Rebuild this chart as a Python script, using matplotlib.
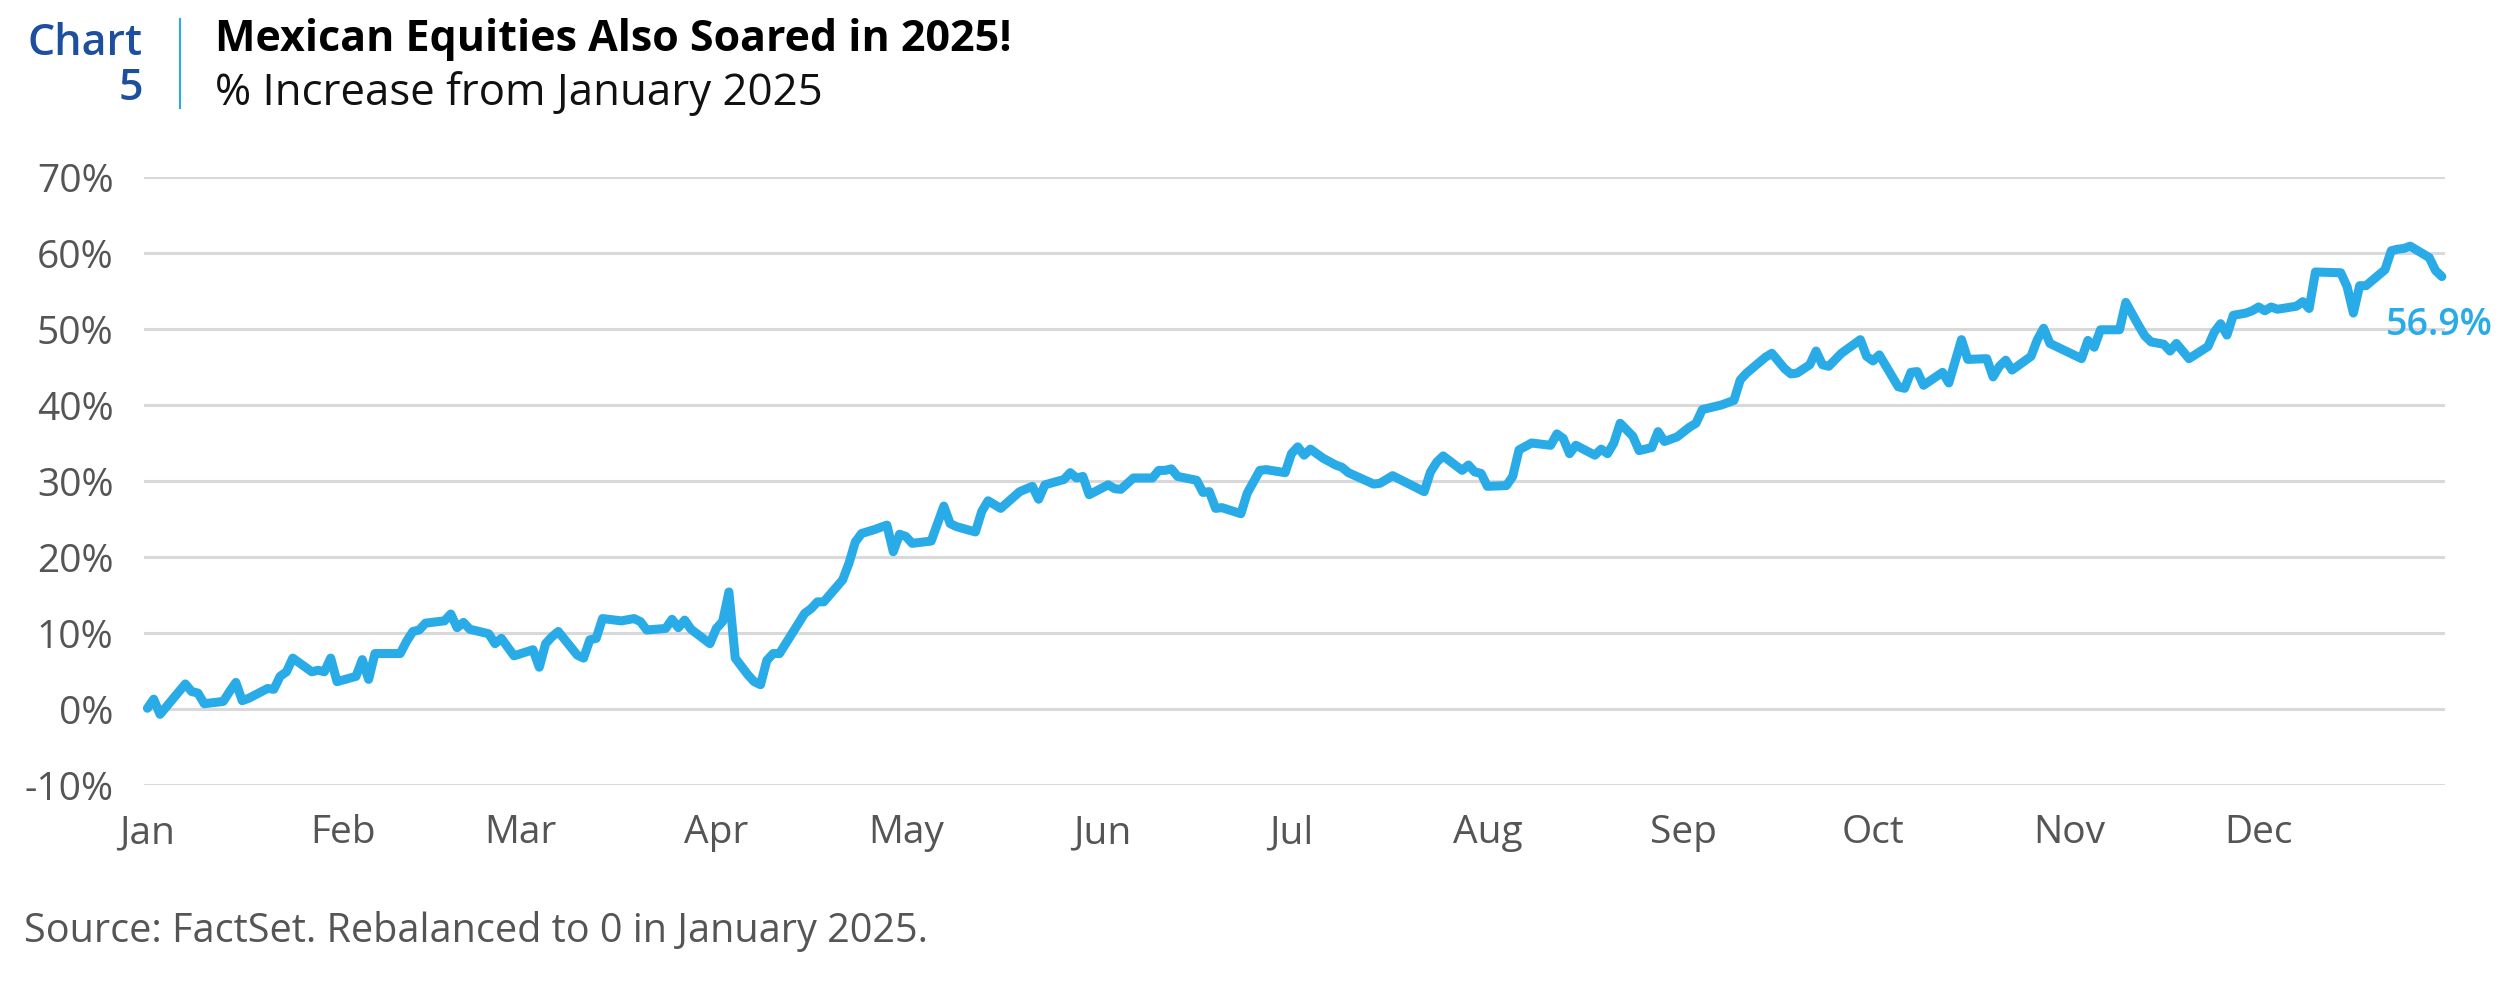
import matplotlib
matplotlib.use("Agg")
import matplotlib.pyplot as plt
from matplotlib.lines import Line2D
import pandas as pd

# ---- data ----
day_offsets = [0, 1, 2, 6, 7, 8, 9, 12, 13, 14, 15, 16, 19, 20, 21, 22, 23, 26, 27, 28, 29, 30,
               33, 34, 35, 36, 40, 41, 42, 43, 44, 47, 48, 49, 50, 51, 54, 55, 56, 58, 61, 62, 63,
               64, 65, 68, 69, 70, 71, 72, 75, 77, 78, 79, 82, 83, 84, 85, 86, 89, 90, 91, 92, 93,
               95, 96, 97, 98, 99, 100, 104, 105, 106, 107, 110, 111, 112, 113, 115, 117, 118, 119,
               120, 121, 124, 126, 127, 128, 131, 132, 133, 135, 138, 140, 141, 142, 145, 146, 147,
               148, 149, 152, 153, 154, 156, 159, 160, 161, 162, 163, 166, 167, 168, 169, 170, 173,
               174, 176, 177, 180, 181, 182, 183, 184, 186, 188, 189, 190, 194, 195, 197, 202, 203,
               204, 205, 208, 209, 210, 211, 212, 215, 216, 217, 219, 222, 223, 224, 225, 226, 229,
               230, 231, 232, 233, 235, 236, 238, 239, 240, 242, 244, 245, 246, 249, 251, 252, 253,
               256, 257, 259, 260, 261, 263, 264, 265, 266, 268, 270, 271, 272, 273, 274, 277, 278,
               279, 280, 281, 284, 285, 287, 288, 291, 292, 293, 294, 295, 298, 299, 300, 301, 306,
               307, 308, 309, 312, 313, 315, 316, 317, 319, 320, 321, 323, 326, 327, 328, 329, 330,
               332, 333, 334, 335, 336, 337, 340, 341, 342, 343, 347, 348, 349, 350, 351, 354, 355,
               356, 357, 358, 361, 362, 363]
pct_increase = [0.1, 1.3, -0.7, 3.3, 2.3, 2.1, 0.7, 1.0, 2.3, 3.5, 1.1, 1.4, 2.7, 2.6, 4.3, 4.9, 6.7,
                4.9, 5.1, 4.9, 6.7, 3.6, 4.3, 6.5, 3.9, 7.3, 7.3, 8.9, 10.2, 10.4, 11.3, 11.6, 12.5,
                10.7, 11.4, 10.5, 9.9, 8.6, 9.3, 7.0, 7.8, 5.5, 8.6, 9.5, 10.2, 7.1, 6.7, 9.1, 9.3,
                11.9, 11.6, 11.9, 11.5, 10.4, 10.6, 11.8, 10.7, 11.7, 10.5, 8.6, 10.6, 11.5, 15.4,
                6.7, 4.5, 3.6, 3.2, 6.4, 7.3, 7.3, 12.6, 13.2, 14.1, 14.1, 17.0, 19.2, 22.0, 23.1,
                23.6, 24.2, 20.7, 23.0, 22.7, 21.8, 22.1, 26.7, 24.4, 24.0, 23.3, 26.0, 27.4, 26.4,
                28.6, 29.3, 27.6, 29.5, 30.2, 31.1, 30.4, 30.6, 28.2, 29.5, 29.0, 28.9, 30.4, 30.4,
                31.4, 31.4, 31.6, 30.6, 30.1, 28.5, 28.6, 26.4, 26.5, 25.7, 28.4, 31.4, 31.5, 31.1,
                33.6, 34.5, 33.4, 34.2, 33.0, 32.1, 31.8, 31.1, 29.6, 29.7, 30.7, 28.6, 31.2, 32.5,
                33.3, 31.4, 32.1, 31.2, 31.0, 29.3, 29.4, 30.6, 34.1, 35.0, 34.7, 36.2, 35.6, 33.6,
                34.7, 33.4, 34.2, 33.6, 35.0, 37.6, 35.9, 34.0, 34.4, 36.5, 35.2, 35.8, 37.1, 37.6,
                39.4, 40.0, 40.6, 43.3, 44.2, 46.3, 46.8, 44.8, 44.1, 44.2, 45.3, 47.1, 45.3, 45.1,
                46.8, 48.0, 48.6, 46.4, 45.8, 46.6, 42.4, 42.2, 44.3, 44.4, 42.6, 44.3, 42.9, 48.6,
                46.0, 46.1, 43.7, 45.1, 45.9, 44.6, 46.4, 48.6, 50.1, 48.1, 46.1, 48.5, 47.6, 49.9,
                49.9, 53.5, 50.5, 49.1, 48.3, 48.0, 47.1, 48.1, 46.1, 47.7, 49.6, 50.7, 49.2, 51.8,
                52.1, 52.4, 52.9, 52.4, 52.9, 52.6, 53.0, 53.6, 52.7, 57.5, 57.4, 55.6, 52.1, 55.7,
                55.7, 57.8, 60.3, 60.5, 60.6, 60.9, 59.4, 57.7, 56.9]
y_ticks = [-10, 0, 10, 20, 30, 40, 50, 60, 70]
month_labels = ["Jan", "Feb", "Mar", "Apr", "May", "Jun", "Jul", "Aug", "Sep", "Oct", "Nov", "Dec"]
end_label = "56.9%"

start = pd.Timestamp("2025-01-01")
dates = start + pd.to_timedelta(day_offsets, unit="D")

# ---- style ----
FONT = ["Open Sans", "DejaVu Sans"]
plt.rcParams["font.family"] = FONT
LINE_C = "#29abe8"
GRID_C = "#d9d9d9"
TXT_C = "#555555"
NAVY = "#1d4f9f"

fig = plt.figure(figsize=(25.17, 10.08), dpi=100)
ax = fig.add_axes([0.0572, 0.2212, 0.9142, 0.6032])

ax.plot(dates, pct_increase, color=LINE_C, lw=6.5, solid_joinstyle="round",
        solid_capstyle="round", zorder=3, clip_on=False)

ax.set_ylim(-10, 70)
ax.set_yticks(y_ticks)
ax.set_yticklabels([f"{v}%" for v in y_ticks])
ax.set_xlim(start - pd.Timedelta(hours=13), start + pd.Timedelta(days=363.5))
month_starts = pd.date_range("2025-01-01", periods=12, freq="MS")
ax.set_xticks(month_starts)
ax.set_xticklabels(month_labels)

ax.grid(axis="y", color=GRID_C, lw=2.2, zorder=0)
ax.grid(axis="x", visible=False)
for s in ax.spines.values():
    s.set_visible(False)
ax.tick_params(axis="both", length=0, colors=TXT_C, labelsize=28)
ax.tick_params(axis="y", pad=22)
ax.tick_params(axis="x", pad=21)

ax.annotate(end_label, xy=(dates[-1], pct_increase[-1]), xytext=(-40, -35),
            textcoords="offset points", ha="left", va="center", color=LINE_C,
            fontsize=27, fontweight="semibold")

# ---- header ----
fig.text(0.0568, 0.957, "Chart", ha="right", va="center", color=NAVY, fontsize=31,
         fontweight="semibold")
fig.text(0.0568, 0.912, "5", ha="right", va="center", color=NAVY, fontsize=31,
         fontweight="semibold")
fig.add_artist(Line2D([0.0715, 0.0715], [0.893, 0.981], transform=fig.transFigure,
                      color=LINE_C, lw=1.5))
fig.text(0.0854, 0.961, "Mexican Equities Also Soared in 2025!", ha="left", va="center",
         color="black", fontsize=31, fontweight="bold")
fig.text(0.0854, 0.907, "% Increase from January 2025", ha="left", va="center",
         color="#111111", fontsize=31.5)
fig.text(0.0095, 0.0754, "Source: FactSet. Rebalanced to 0 in January 2025.", ha="left",
         va="center", color=TXT_C, fontsize=28.5)

fig.savefig("out.png", dpi=100)
